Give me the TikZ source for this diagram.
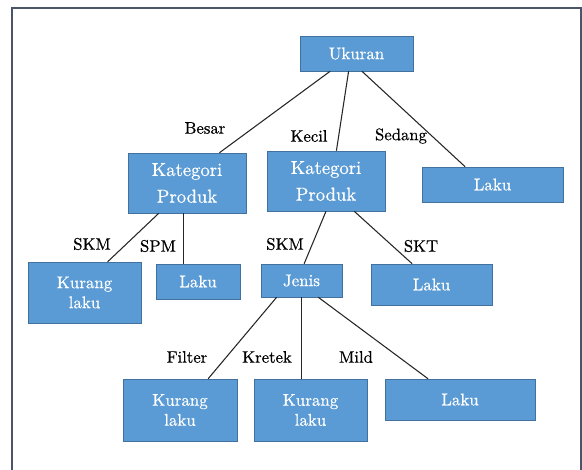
\documentclass[tikz,border=0pt]{standalone}
\usepackage{fontspec}
\newfontfamily\lmfont{lmroman10-regular.otf}[FakeBold=0.5]
\definecolor{boxblue}{HTML}{5B9BD5}
\definecolor{boxedge}{HTML}{41719C}
\definecolor{framecol}{HTML}{4A5568}

\begin{document}
\begin{tikzpicture}[
        x=0.75pt, y=-0.75pt,
        box/.style={draw=boxedge, fill=boxblue, text=white, align=center, inner sep=0pt, font=\lmfont\fontsize{12.7}{15}\selectfont},
        kat/.style={box, font=\lmfont\fontsize{14}{20}\selectfont},
        lbl/.style={font=\lmfont\fontsize{12.5}{15}\selectfont, inner sep=0pt},
        edge/.style={draw=black!85, line width=0.8pt}
    ]
        \useasboundingbox (0,0) rectangle (582,470);
        \clip (0,0) rectangle (582,470);
        \draw[framecol, line width=1.5pt] (12,8) rectangle (581,490);

        \node[box, minimum width=84.75pt, minimum height=26.25pt] (uk)    at (356.5,53.5) {Ukuran};
        \node[kat, minimum width=88.5pt,  minimum height=45pt]    (kp1)   at (187,183)    {Kategori\\Produk};
        \node[kat, minimum width=88.5pt,  minimum height=45pt]    (kp2)   at (326,181)    {Kategori\\Produk};
        \node[box, minimum width=105.75pt,minimum height=26.25pt] (laku1) at (492.5,184.5){Laku};
        \node[box, minimum width=84.75pt, minimum height=45.75pt] (kl1)   at (84.5,292.5) {Kurang\\laku};
        \node[box, minimum width=63pt,    minimum height=26.25pt] (laku2) at (198,281.5)  {Laku};
        \node[box, minimum width=60.75pt, minimum height=24.75pt] (jenis) at (301.5,280.5){Jenis};
        \node[box, minimum width=90.75pt, minimum height=30.75pt] (laku3) at (431.5,284.5){Laku};
        \node[box, minimum width=85.5pt,  minimum height=46.5pt]  (kl2)   at (180,410)    {Kurang\\laku};
        \node[box, minimum width=84.75pt, minimum height=46.5pt]  (kl3)   at (310.5,410)  {Kurang\\laku};
        \node[box, minimum width=112.5pt, minimum height=30.75pt] (laku4) at (460,399.5)  {Laku};

        \draw[edge] (uk.214.5) -- (kp1.43.2);
        \draw[edge] (uk.246.8) -- (kp2.71.6);
        \draw[edge] (uk.287.4) -- (laku1.147.5);
        \draw[edge] (kp1.227)  -- (kl1.53.6);
        \draw[edge] (kp1.264.3) -- (kp1.264.3 |- laku2.north);
        \draw[edge] (kp2.south) -- (jenis.81.4);
        \draw[edge] (kp2.313)  -- (laku3.133.6);
        \draw[edge] (jenis.214) -- (kl2.48.9);
        \draw[edge] (jenis.south) -- (jenis.south |- kl3.north);
        \draw[edge] (jenis.315) -- (laku4.147.4);

        \node[lbl] (besar)  at (205,128) {Besar};
        \node[lbl] (kecil)  at (309,136) {Kecil};
        \node[lbl] (sedang) at (401,136) {Sedang};
        \node[lbl] (skm1)   at (92,244)  {SKM};
        \node[lbl] (spm)    at (158,246) {SPM};
        \node[lbl] (skm2)   at (285,244) {SKM};
        \node[lbl] (skt)    at (421,246) {SKT};
        \node[lbl] (filter) at (187,357) {Filter};
        \node[lbl] (kretek) at (267,357) {Kretek};
        \node[lbl] (mild)   at (356,357) {Mild};
    \end{tikzpicture}
\end{document}
